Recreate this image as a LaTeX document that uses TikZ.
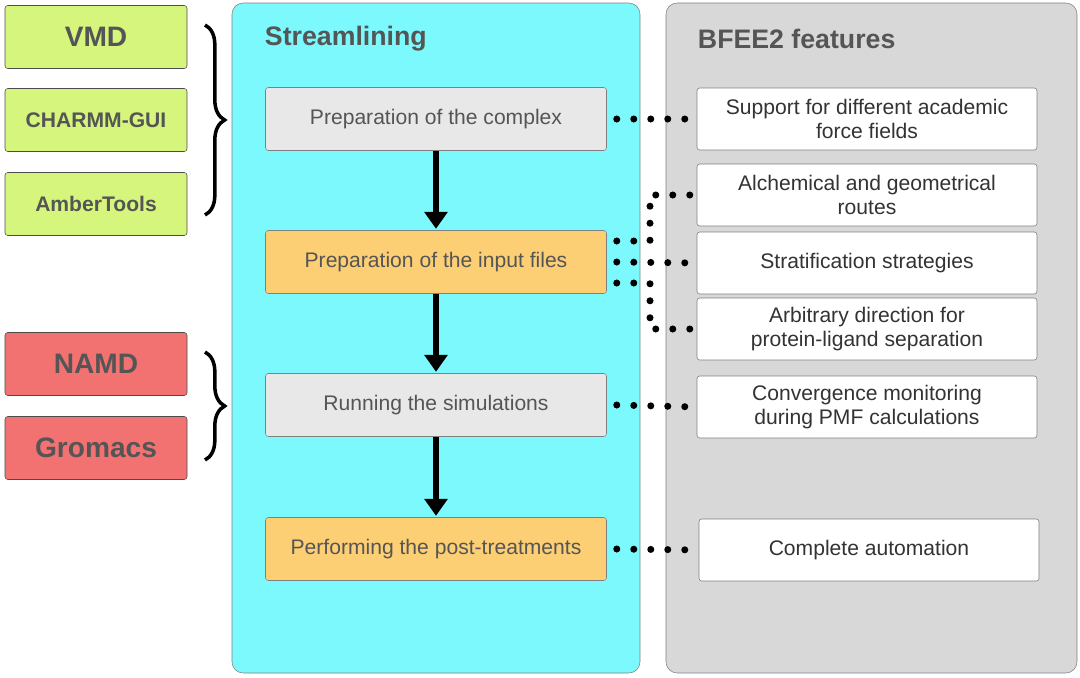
\documentclass[tikz,border=0pt]{standalone}
\usepackage{fontspec}
\setmainfont{Liberation Sans}
\usetikzlibrary{decorations.pathreplacing,arrows.meta}
\definecolor{toolgreen}{HTML}{D6F57C}
\definecolor{enginered}{HTML}{F27272}
\definecolor{panela}{HTML}{7CF9FD}
\definecolor{panelb}{HTML}{D8D8D8}
\definecolor{stagea}{HTML}{E8E8E8}
\definecolor{stageb}{HTML}{FDCF74}
\definecolor{titlegray}{HTML}{555555}
\begin{document}
\begin{tikzpicture}[x=0.025cm,y=-0.025cm]
	\tikzstyle{toolbox} = [draw=black!70,fill=toolgreen,rounded corners=2pt,minimum width=182*0.025cm,minimum height=63*0.025cm,font=\bfseries\fontsize{15}{15}\selectfont,text=titlegray]
	\tikzstyle{enginebox} = [toolbox,fill=enginered,font=\bfseries\fontsize{20}{20}\selectfont]
	\tikzstyle{stage} = [draw=black!50,fill=stagea,rounded corners=2pt,minimum width=341*0.025cm,minimum height=63*0.025cm,font=\fontsize{15}{15}\selectfont,text=titlegray]
	\tikzstyle{feature} = [draw=black!50,fill=white,rounded corners=2pt,minimum width=340*0.025cm,minimum height=62*0.025cm,align=center,font=\fontsize{15}{17}\selectfont,text=black!80]
	\tikzstyle{flow} = [-{Triangle[length=12pt,width=16pt]},line width=4pt,shorten >=1pt]
	\tikzstyle{dotline} = [line width=5pt,line cap=round,dash pattern=on 0pt off 17*0.025cm]
	\tikzstyle{bigbrace} = [decorate,decoration={brace,amplitude=14pt},line width=2.5pt]
	\useasboundingbox (0,0) rectangle (1080,678);
	% panels
	\fill[panela,draw=black!50,rounded corners=8pt] (232,3) rectangle (640,673);
	\fill[panelb,draw=black!50,rounded corners=8pt] (666,3) rectangle (1077,673);
	\node[anchor=west,font=\bfseries\fontsize{19}{19}\selectfont,text=titlegray] (t1) at (260,39) {Streamlining};
	\node[anchor=west,font=\bfseries\fontsize{19}{19}\selectfont,text=titlegray] (t2) at (693,39) {BFEE2 features};
	% tools
	\node[toolbox,font=\bfseries\fontsize{20}{20}\selectfont] (vmd) at (96,37) {VMD};
	\node[toolbox] (charmm) at (96,120) {CHARMM-GUI};
	\node[toolbox] (amber) at (96,204) {AmberTools};
	\node[enginebox] (namd) at (96,364) {NAMD};
	\node[enginebox] (gromacs) at (96,448) {Gromacs};
	\draw[bigbrace] (205,25) -- (205,215);
	\draw[bigbrace] (205,352) -- (205,460);
	% stages
	\node[stage] (s1) at (436,119) {Preparation of the complex};
	\node[stage,fill=stageb] (s2) at (436,262) {Preparation of the input files};
	\node[stage] (s3) at (436,405) {Running the simulations};
	\node[stage,fill=stageb] (s4) at (436,549) {Performing the post-treatments};
	\draw[flow] (s1) -- (s2);
	\draw[flow] (s2) -- (s3);
	\draw[flow] (s3) -- (s4);
	% features
	\node[feature] (f1) at (867,119) {Support for different academic\\force fields};
	\node[feature] (f2) at (867,195) {Alchemical and geometrical\\routes};
	\node[feature] (f3) at (867,263) {Stratification strategies};
	\node[feature] (f4) at (867,329) {Arbitrary direction for\\protein-ligand separation};
	\node[feature] (f5) at (867,407) {Convergence monitoring\\during PMF calculations};
	\node[feature] (f6) at (869,550) {Complete automation};
	\coordinate (c1) at (650,241);
	\coordinate (c2) at (650,283);
	\draw[dotline] ([xshift=10*0.025cm]s1.east) -- (f1.west);
	\draw[dotline] ([xshift=10*0.025cm,yshift=21*0.025cm]s2.east) -- (c1) |- (f2.west);
	\draw[dotline] ([xshift=10*0.025cm]s2.east) -- (f3.west);
	\draw[dotline] ([xshift=10*0.025cm,yshift=-21*0.025cm]s2.east) -- (c2) |- (f4.west);
	\draw[dotline] ([xshift=10*0.025cm]s3.east) -- (f5.west);
	\draw[dotline] ([xshift=10*0.025cm]s4.east) -- (f6.west);
\end{tikzpicture}
\end{document}
